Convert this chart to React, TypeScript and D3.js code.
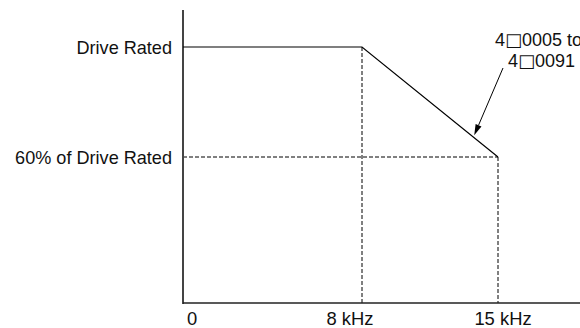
import React from "react";
import * as d3 from "d3";

const freqs = [0, 8, 15];
const currentPct = [100, 100, 60];
const tickLabels = ["0", "8 kHz", "15 kHz"];
const levelLabels = ["Drive Rated", "60% of Drive Rated"];
const levelValues = [100, 60];
const annotationPrefix = ["4", "4"];
const annotationSuffix = ["0005 to", "0091"];
const arrowFreq = 13.75;

const W = 580;
const H = 328;
const FONT = "'Liberation Sans', Arial, sans-serif";

export default function App() {
  const x = d3.scaleLinear().domain([0, 8, 15]).range([183, 362, 498]);
  const y = d3.scaleLinear().domain([0, 60, 100]).range([303, 157, 47]);
  const yTop = 10;
  const xEnd = 580;

  const data = freqs.map((f, i) => ({ f, v: currentPct[i] }));
  const line = d3
    .line<{ f: number; v: number }>()
    .x((d) => x(d.f))
    .y((d) => y(d.v));

  const interpV = d3.scaleLinear().domain([8, 15]).range([100, 60]);
  const tipX = x(arrowFreq) + 0.5;
  const tipY = y(interpV(arrowFreq)) - 2;
  const startX = 503;
  const startY = 68;
  const ang = Math.atan2(tipY - startY, tipX - startX);
  const hl = 11;
  const hw = 3.2;
  const bx = tipX - hl * Math.cos(ang);
  const by = tipY - hl * Math.sin(ang);
  const px = -Math.sin(ang);
  const py = Math.cos(ang);
  const head = `M${tipX},${tipY}L${bx + hw * px},${by + hw * py}L${bx - hw * px},${by - hw * py}Z`;

  const x8 = x(8);
  const x15 = x(15);
  const y60 = y(60);
  const y0 = y(0);

  const labelDx = [4, -12, 5];
  const labelAnchor = ["start", "middle", "middle"];
  const annX = [495, 508];
  const annY = [46, 67];

  return (
    <svg
      width={W}
      height={H}
      style={{ position: "absolute", left: 0, top: 0, background: "#fff" }}
      fontFamily={FONT}
    >
      <g stroke="#000" strokeWidth={1} strokeDasharray="4,2" fill="none">
        <line x1={x(0)} y1={y60} x2={x15} y2={y60} />
        <line x1={x8} y1={y(100)} x2={x8} y2={y0} />
        <line x1={x15} y1={y60} x2={x15} y2={y0} />
      </g>

      <line x1={x(0)} y1={yTop} x2={x(0)} y2={y0 + 1} stroke="#444" strokeWidth={2} />
      <line x1={x(0)} y1={y0} x2={xEnd} y2={y0} stroke="#222" strokeWidth={1.6} />

      <path d={line(data) || ""} fill="none" stroke="#000" strokeWidth={1.2} />

      {levelLabels.map((t, i) => (
        <text
          key={t}
          x={172}
          y={y(levelValues[i])}
          dy="0.36em"
          textAnchor="end"
          fontSize={18.1}
          fill="#111"
        >
          {t}
        </text>
      ))}

      {tickLabels.map((t, i) => (
        <text
          key={t}
          x={x(freqs[i]) + labelDx[i]}
          y={325}
          textAnchor={labelAnchor[i]}
          fontSize={18.4}
          fill="#111"
        >
          {t}
        </text>
      ))}

      {annotationPrefix.map((p, i) => (
        <text key={i} x={annX[i]} y={annY[i]} fontSize={18} fill="#111">
          {p}
          <tspan fontFamily="'DejaVu Sans', sans-serif" fontSize={18}>
            {"\u25A1"}
          </tspan>
          {annotationSuffix[i]}
        </text>
      ))}
      <line x1={startX} y1={startY} x2={bx} y2={by} stroke="#000" strokeWidth={1} />
      <path d={head} fill="#000" />
    </svg>
  );
}
